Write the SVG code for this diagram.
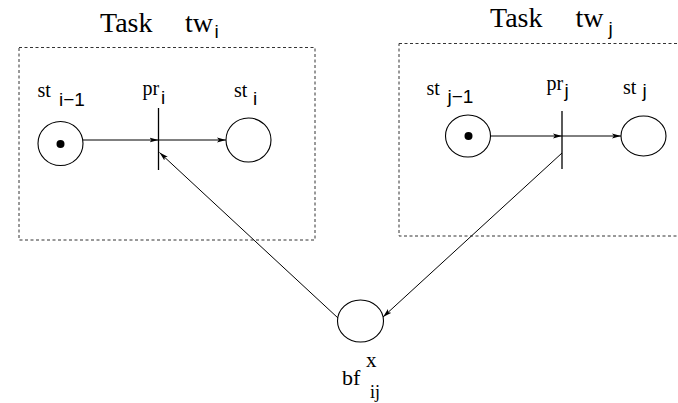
<svg xmlns="http://www.w3.org/2000/svg" width="678" height="403" viewBox="0 0 678 403">
<style>
.box{fill:none;stroke:#333;stroke-width:1;stroke-dasharray:3,2.5}
.pl{fill:none;stroke:#000;stroke-width:1.1}
.tr{stroke:#000;stroke-width:1.3}
.tok{fill:#000}
.ln{fill:none;stroke:#000;stroke-width:1}
.sr{font-family:"Liberation Serif",serif;fill:#000}
.ss{font-family:"Liberation Sans",sans-serif;fill:#000}
</style>
<defs>
<marker id="ah" markerUnits="userSpaceOnUse" markerWidth="10" markerHeight="6" refX="9" refY="3" orient="auto">
<path d="M0,0.5 L9,3 L0,5.5 L2,3 z" fill="#000"/>
</marker>
</defs>
<rect class="box" x="19" y="47.5" width="296" height="192.5"/>
<rect class="box" x="399" y="43.5" width="290" height="192.5"/>
<text class="sr" x="100" y="32" font-size="28">Task</text>
<text class="sr" x="185" y="32" font-size="28">tw</text>
<text class="ss" x="214.5" y="38" font-size="19">i</text>
<text class="sr" x="490" y="27" font-size="28">Task</text>
<text class="sr" x="575.5" y="27" font-size="28">tw</text>
<text class="ss" x="608.5" y="35" font-size="19">j</text>
<g id="connectors">
<line class="ln" x1="83" y1="140" x2="158.5" y2="140" marker-end="url(#ah)"/>
<line class="ln" x1="158.5" y1="140" x2="226" y2="140" marker-end="url(#ah)"/>
<line class="ln" x1="490.5" y1="136" x2="562" y2="136" marker-end="url(#ah)"/>
<line class="ln" x1="562" y1="136" x2="621" y2="136" marker-end="url(#ah)"/>
<line class="ln" x1="338" y1="318" x2="159.5" y2="152.5" marker-end="url(#ah)"/>
<line class="ln" x1="562" y1="153" x2="383" y2="317" marker-end="url(#ah)"/>
</g>
<g id="st_i-1">
<ellipse class="pl" cx="60.5" cy="143.5" rx="22.5" ry="22"/>
<circle class="tok" cx="60.5" cy="144" r="4"/>
<text class="sr" x="37.5" y="97" font-size="20">st</text>
<text class="ss" x="59" y="106" font-size="19">i−1</text>
</g>
<g id="pr_i">
<line class="tr" x1="158.5" y1="108" x2="158.5" y2="170"/>
<text class="sr" x="142.5" y="95" font-size="20">pr</text>
<text class="ss" x="161" y="104" font-size="19">i</text>
</g>
<g id="st_i">
<ellipse class="pl" cx="248.5" cy="140" rx="22.5" ry="22"/>
<text class="sr" x="234" y="97" font-size="20">st</text>
<text class="ss" x="253" y="105" font-size="19">i</text>
</g>
<g id="st_j-1">
<ellipse class="pl" cx="468" cy="136" rx="22.5" ry="21"/>
<circle class="tok" cx="468.5" cy="136" r="4"/>
<text class="sr" x="426.5" y="95" font-size="20">st</text>
<text class="ss" x="447.5" y="103" font-size="19">j−1</text>
</g>
<g id="pr_j">
<line class="tr" x1="562" y1="111" x2="562" y2="169"/>
<text class="sr" x="546.5" y="90" font-size="20">pr</text>
<text class="ss" x="564.5" y="97" font-size="19">j</text>
</g>
<g id="st_j">
<ellipse class="pl" cx="643.5" cy="136" rx="22.5" ry="20"/>
<text class="sr" x="623" y="94" font-size="20">st</text>
<text class="ss" x="642.5" y="97" font-size="19">j</text>
</g>
<g id="bf_ij">
<ellipse class="pl" cx="360.5" cy="321" rx="23" ry="21"/>
<text class="sr" x="342" y="385" font-size="22">bf</text>
<text class="sr" x="366" y="367" font-size="21">x</text>
<text class="sr" x="370" y="397.5" font-size="18">ij</text>
</g>
</svg>
